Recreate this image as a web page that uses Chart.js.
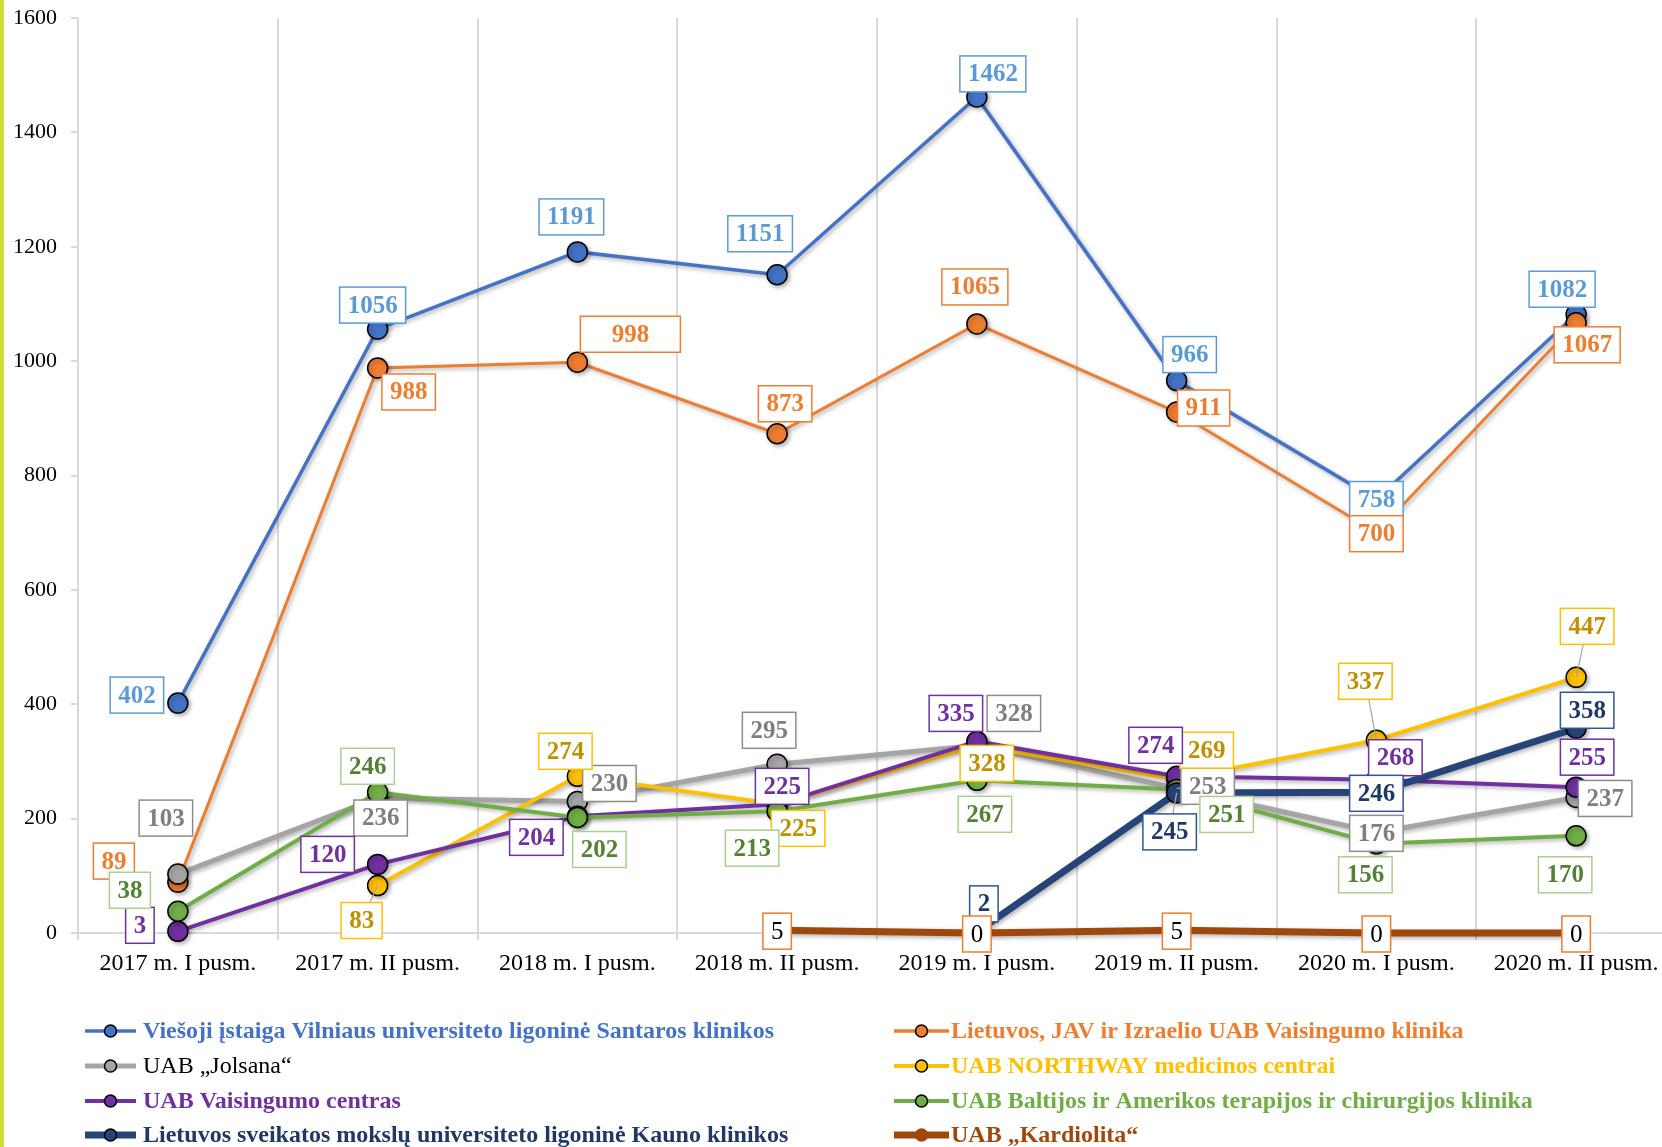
<!DOCTYPE html>
<html>
<head>
<meta charset="utf-8">
<script src="https://cdn.jsdelivr.net/npm/chart.js@4.4.0/dist/chart.umd.min.js"></script>
<style>
  html, body { margin: 0; padding: 0; background: #fff; overflow: hidden; }
  #wrap { position: relative; width: 1662px; height: 1147px; overflow: hidden; }
  #inner { width: 1676px; height: 1147px; }
  #stripe { position: absolute; left: 0; top: 0; width: 4px; height: 1147px; background: #cfdc3a; }
</style>
</head>
<body>
<div id="wrap">
  <div id="inner"><canvas id="myChart" width="1676" height="1147"></canvas></div>
  <div id="stripe"></div>
</div>
<script>
// laikotarpiai
const periodai = ['2017 m. I pusm.', '2017 m. II pusm.', '2018 m. I pusm.', '2018 m. II pusm.',
  '2019 m. I pusm.', '2019 m. II pusm.', '2020 m. I pusm.', '2020 m. II pusm.'];
const yTicks = [0, 200, 400, 600, 800, 1000, 1200, 1400, 1600];

// klinikos
const santaros = [402, 1056, 1191, 1151, 1462, 966, 758, 1082];
const vaisKlinika = [89, 988, 998, 873, 1065, 911, 700, 1067];
const jolsana = [103, 236, 230, 295, 328, 253, 176, 237];
const northway = [null, 83, 274, 225, 328, 269, 337, 447];
const vaisCentras = [3, 120, 204, 225, 335, 274, 268, 255];
const baltijos = [38, 246, 202, 213, 267, 251, 156, 170];
const kauno = [null, null, null, null, 2, 245, 246, 358];
const kardiolita = [null, null, null, 5, 0, 5, 0, 0];

// etikeciu poslinkiai nuo tasko [dx, dy, vedlys, plotis]
const poslinkiai = [
  [[-41,-8],[-5,-24],[-6,-35],[-17,-41],[16,-23],[13,-26],[0,0],[-14,-25]],
  [[-64,-21],[31,24],[53,-28,false,100],[8,-30],[-2,-37],[27,-4],[0,1],[11,22]],
  [[-12,-56],[3,20],[32,-18],[-8,-34],[37,-32],[31,-2,true],[0,1],[29,1]],
  [null,[-16,35,true],[-12,-25],[21,24],[10,18],[30,-29],[-11,-59,true],[11,-51,true]],
  [[-38,-6],[-50,-10],[-41,21],[5,-18],[-21,-28],[-21,-31],[19,-22],[11,-30]],
  [[-48,-21],[-10,-26],[22,32],[-25,37],[8,34],[50,25],[-11,31],[-11,39]],
  [null,null,null,null,[7,-28],[-7,39,true],[0,1],[11,-18]],
  [null,null,null,[0,1],[0,1],[0,1],[0,1],[0,1]]
];

const serif = '"Liberation Serif", "Times New Roman", serif';

function linija(label, data, color, width, etik, legenda) {
  return {
    label: label,
    data: data,
    borderColor: color,
    backgroundColor: color,
    borderWidth: width,
    pointRadius: 10,
    pointHoverRadius: 10,
    pointBackgroundColor: color,
    pointBorderColor: '#000',
    pointBorderWidth: 1.5,
    tension: 0,
    clip: false,
    etik: etik,
    legenda: legenda
  };
}

const datasets = [
  linija('Viešoji įstaiga Vilniaus universiteto ligoninė Santaros klinikos', santaros, '#4472c4', 3.5,
    { text: '#5b9bd5', border: '#5b9bd5', bold: true }, { color: '#4472c4', bold: true }),
  linija('Lietuvos, JAV ir Izraelio UAB Vaisingumo klinika', vaisKlinika, '#ed7d31', 3,
    { text: '#ed7d31', border: '#ed7d31', bold: true }, { color: '#ed7d31', bold: true }),
  linija('UAB „Jolsana“', jolsana, '#a5a5a5', 5,
    { text: '#7f7f7f', border: '#8c8c8c', bold: true }, { color: '#000', bold: false }),
  linija('UAB NORTHWAY medicinos centrai', northway, '#ffc000', 4,
    { text: '#bf9000', border: '#ffc000', bold: true }, { color: '#ffc000', bold: true }),
  linija('UAB Vaisingumo centras', vaisCentras, '#7030a0', 4,
    { text: '#7030a0', border: '#7030a0', bold: true }, { color: '#7030a0', bold: true }),
  linija('UAB Baltijos ir Amerikos terapijos ir chirurgijos klinika', baltijos, '#70ad47', 4,
    { text: '#548235', border: '#a9d18e', bold: true }, { color: '#70ad47', bold: true }),
  linija('Lietuvos sveikatos mokslų universiteto ligoninė Kauno klinikos', kauno, '#264478', 7,
    { text: '#1f3864', border: '#2f5597', bold: true }, { color: '#1f3864', bold: true }),
  linija('UAB „Kardiolita“', kardiolita, '#9e480e', 7,
    { text: '#000', border: '#ed7d31', bold: false }, { color: '#9e480e', bold: true })
];
datasets.forEach((d, i) => { d.order = datasets.length - i; });
datasets[7].pointBorderColor = '#9e480e';
datasets[7].pointRadius = 8;

const seselis = {
  id: 'seselis',
  beforeDatasetDraw(chart) {
    const c = chart.ctx;
    c.save();
    c.shadowColor = 'rgba(0,0,0,0.3)';
    c.shadowBlur = 4;
    c.shadowOffsetX = 2;
    c.shadowOffsetY = 2;
  },
  afterDatasetDraw(chart) {
    chart.ctx.restore();
  }
};

function dezute(ctx, x, y, tekstas, st, plotis) {
  ctx.font = (st.bold ? 'bold ' : '') + '25px ' + serif;
  const w = plotis || ctx.measureText(tekstas).width + 16;
  const h = 36;
  ctx.fillStyle = '#fff';
  ctx.fillRect(x - w / 2, y - h / 2, w, h);
  ctx.strokeStyle = st.border;
  ctx.lineWidth = 1.5;
  ctx.strokeRect(x - w / 2, y - h / 2, w, h);
  ctx.fillStyle = st.text;
  ctx.textAlign = 'center';
  ctx.textBaseline = 'middle';
  ctx.fillText(tekstas, x, y + 1);
}

const etiketes = {
  id: 'etiketes',
  afterDatasetsDraw(chart) {
    const ctx = chart.ctx;
    ctx.save();
    chart.data.datasets.forEach((ds, i) => {
      const meta = chart.getDatasetMeta(i);
      ds.data.forEach((v, j) => {
        if (v === null) return;
        const p = meta.data[j];
        const o = poslinkiai[i][j] || [0, 0];
        const lx = p.x + o[0], ly = p.y + o[1];
        if (o[2]) {
          ctx.strokeStyle = '#a6a6a6';
          ctx.lineWidth = 1.2;
          ctx.beginPath();
          ctx.moveTo(p.x, p.y);
          ctx.lineTo(lx, ly);
          ctx.stroke();
        }
        dezute(ctx, lx, ly, String(v), ds.etik, o[3]);
      });
    });
    ctx.restore();
  }
};

const legenda = {
  id: 'legenda',
  afterDraw(chart) {
    const ctx = chart.ctx;
    const eil = [1031, 1066, 1101, 1135];
    const kol = [[85, 136, 143], [894, 949, 951]];
    ctx.save();
    ctx.font = 'bold 24px ' + serif;
    const mastelis = 631 / ctx.measureText(chart.data.datasets[0].label).width;
    chart.data.datasets.forEach((ds, i) => {
      const y = eil[Math.floor(i / 2)];
      const k = kol[i % 2];
      ctx.strokeStyle = ds.borderColor;
      ctx.lineWidth = Math.max(ds.borderWidth, 3.5);
      ctx.beginPath();
      ctx.moveTo(k[0], y);
      ctx.lineTo(k[1], y);
      ctx.stroke();
      ctx.beginPath();
      ctx.arc((k[0] + k[1]) / 2, y, 6, 0, Math.PI * 2);
      ctx.fillStyle = ds.pointBackgroundColor;
      ctx.fill();
      ctx.strokeStyle = ds.pointBorderColor;
      ctx.lineWidth = 1.5;
      ctx.stroke();
      ctx.save();
      ctx.translate(k[2], y);
      ctx.scale(mastelis, 1);
      ctx.font = (ds.legenda.bold ? 'bold ' : '') + '24px ' + serif;
      ctx.fillStyle = ds.legenda.color;
      ctx.textAlign = 'left';
      ctx.textBaseline = 'middle';
      ctx.fillText(ds.label, 0, 1);
      ctx.restore();
    });
    ctx.restore();
  }
};

const ctx = document.getElementById('myChart').getContext('2d');

new Chart(ctx, {
  type: 'line',
  data: {
    labels: periodai,
    datasets: datasets
  },
  options: {
    responsive: false,
    animation: false,
    layout: { autoPadding: false, padding: { top: 18, right: 0, bottom: 154, left: 0 } },
    plugins: {
      legend: { display: false },
      tooltip: { enabled: false }
    },
    scales: {
      x: {
        offset: true,
        grid: { offset: true, color: '#d9d9d9', lineWidth: 2, tickLength: 7 },
        border: { color: '#d9d9d9', width: 2 },
        ticks: { color: '#000', font: { family: serif, size: 24 }, padding: 9, maxRotation: 0, autoSkip: false },
        afterFit(scale) { scale.height = 60; scale.paddingLeft = 0; scale.paddingRight = 0; }
      },
      y: {
        min: yTicks[0],
        max: yTicks[yTicks.length - 1],
        afterBuildTicks(scale) { scale.ticks = yTicks.map(v => ({ value: v })); },
        grid: { drawOnChartArea: false, drawTicks: true, tickLength: 7, color: '#d9d9d9', lineWidth: 2 },
        border: { display: false },
        ticks: { color: '#000', font: { family: serif, size: 22 }, padding: 14, callback: v => String(v) },
        afterFit(scale) { scale.width = 78; scale.paddingTop = 0; scale.paddingBottom = 0; }
      }
    }
  },
  plugins: [seselis, etiketes, legenda]
});
</script>
</body>
</html>
